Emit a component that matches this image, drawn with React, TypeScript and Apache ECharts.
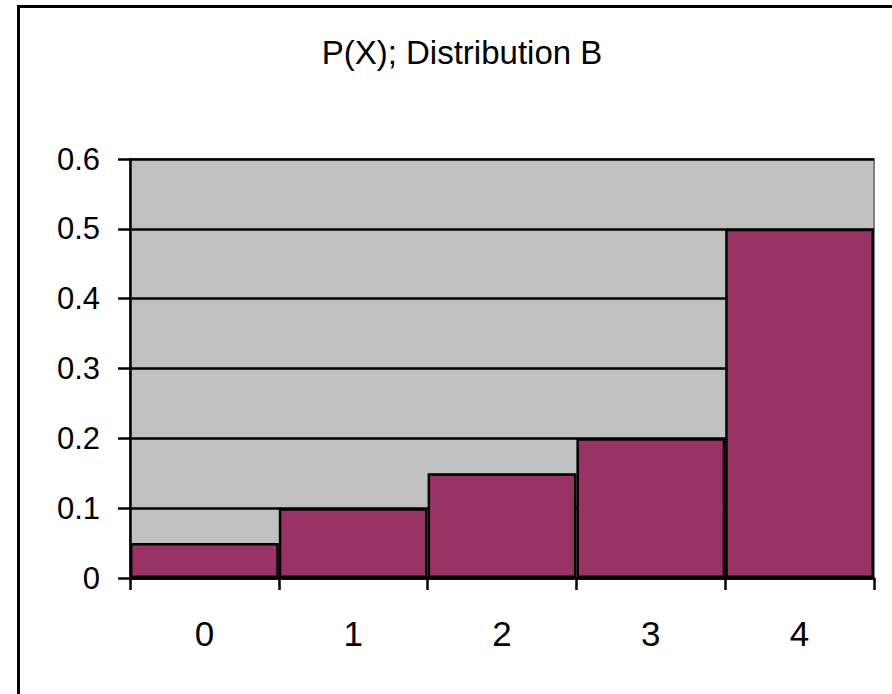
import React, { useEffect, useRef } from "react";
import * as echarts from "echarts";

const categories = ["0", "1", "2", "3", "4"];
const probabilities = [0.05, 0.1, 0.15, 0.2, 0.5];
const titleText = "P(X); Distribution B";

const FONT = "'Liberation Sans', Arial, sans-serif";

export default function App() {
  const ref = useRef<HTMLDivElement>(null);

  useEffect(() => {
    if (!ref.current) return;
    const chart = echarts.init(ref.current, undefined, { renderer: "svg" });
    chart.setOption({
      animation: false,
      backgroundColor: "#ffffff",
      graphic: [
        {
          type: "rect",
          shape: { x: 18.5, y: 6.5, width: 1200, height: 1200 },
          style: { fill: "none", stroke: "#000000", lineWidth: 3 },
          silent: true,
        },
        {
          type: "text",
          x: 462,
          y: 36,
          style: {
            text: titleText,
            fontFamily: FONT,
            fontSize: 33,
            fill: "#000000",
            textAlign: "center",
            textVerticalAlign: "top",
          },
        },
      ],
      grid: {
        left: 130,
        right: 18,
        top: 159,
        bottom: 116,
        show: true,
        backgroundColor: "#c0c0c0",
        borderColor: "#808080",
        borderWidth: 2,
      },
      xAxis: {
        type: "category",
        data: categories,
        boundaryGap: true,
        axisLine: { show: true, lineStyle: { color: "#000000", width: 2.5 } },
        axisTick: { show: true, length: 12, lineStyle: { color: "#000000", width: 2.5 } },
        axisLabel: { margin: 38, fontFamily: FONT, fontSize: 35, color: "#000000" },
        splitLine: { show: false },
      },
      yAxis: {
        type: "value",
        min: 0,
        max: 0.6,
        interval: 0.1,
        axisLine: { show: true, lineStyle: { color: "#000000", width: 2.5 } },
        axisTick: { show: true, length: 12, lineStyle: { color: "#000000", width: 2.5 } },
        axisLabel: { margin: 30, fontFamily: FONT, fontSize: 31, color: "#000000" },
        splitLine: { show: true, lineStyle: { color: "#000000", width: 2.5 } },
      },
      series: [
        {
          type: "bar",
          data: probabilities,
          barCategoryGap: "0%",
          itemStyle: { color: "#993366", borderColor: "#000000", borderWidth: 2.5 },
        },
      ],
    });
    return () => chart.dispose();
  }, []);

  return (
    <div
      ref={ref}
      style={{ position: "fixed", left: 0, top: 0, width: 892, height: 694 }}
    />
  );
}
